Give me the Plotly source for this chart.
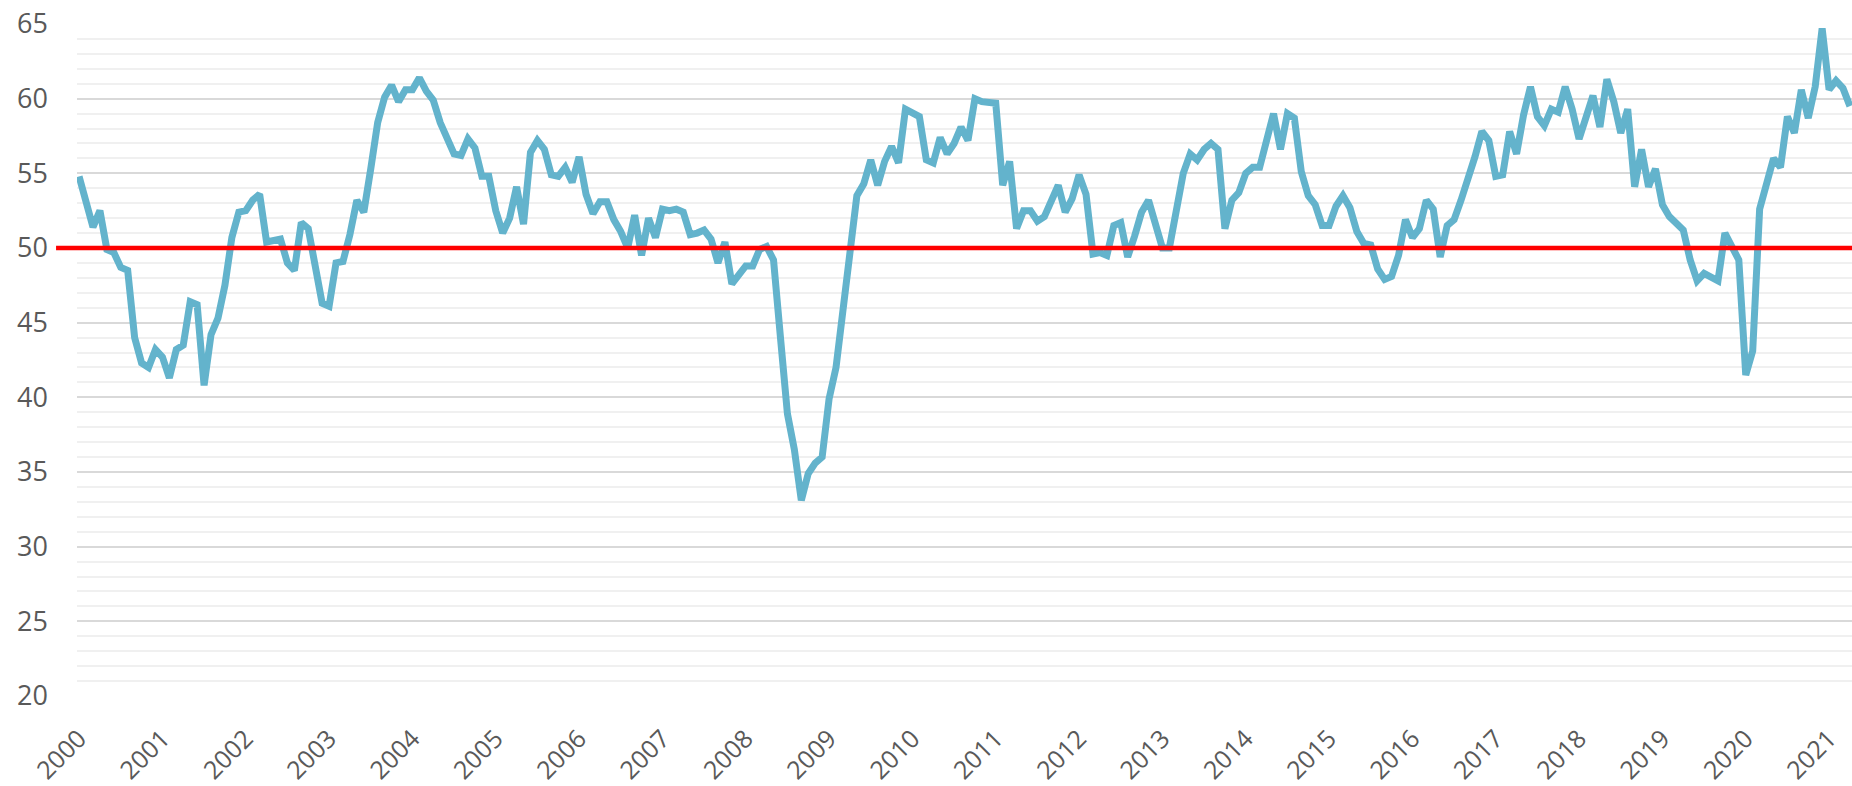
import pandas as pd
import plotly.graph_objects as go

# Monthly index values, April 2000 - July 2021
values = [
    54.8, 53.2, 51.4, 52.5, 49.9, 49.7, 48.7, 48.5, 44.0,
    42.3, 42.0, 43.2, 42.7, 41.3, 43.2, 43.5, 46.4, 46.2, 40.8, 44.2, 45.3,
    47.5, 50.7, 52.4, 52.5, 53.2, 53.6, 50.4, 50.5, 50.6, 49.0, 48.5, 51.7,
    51.3, 48.8, 46.3, 46.1, 49.0, 49.1, 50.9, 53.2, 52.4, 55.3, 58.4, 60.1,
    60.9, 59.8, 60.6, 60.6, 61.4, 60.5, 59.9, 58.4, 57.2, 56.3, 56.2, 57.3,
    56.7, 54.8, 54.8, 52.5, 51.0, 52.0, 54.1, 51.6, 56.4, 57.2, 56.6, 54.9,
    54.8, 55.4, 54.4, 56.1, 53.6, 52.3, 53.1, 53.1, 51.9, 51.1, 50.0, 52.2,
    49.5, 52.0, 50.7, 52.6, 52.5, 52.6, 52.4, 50.9, 51.0, 51.2, 50.6, 49.0,
    50.4, 47.6, 48.2, 48.8, 48.8, 49.9, 50.1, 49.2, 44.0, 38.9, 36.5, 33.1,
    34.9, 35.6, 36.0, 39.9, 42.0, 45.6, 49.0, 53.5, 54.3, 55.9, 54.2, 55.8,
    56.8, 55.7, 59.3, 59.0, 58.8, 55.9, 55.7, 57.4, 56.3, 57.0, 58.1, 57.2,
    60.0, 59.8, 59.8, 59.7, 54.2, 55.8, 51.3, 52.5, 52.5, 51.8, 52.1, 53.2,
    54.2, 52.4, 53.3, 54.9, 53.6, 49.6, 49.7, 49.5, 51.5, 51.7, 49.4, 50.8,
    52.4, 53.2, 51.6, 50.0, 50.0, 52.5, 55.0, 56.3, 55.9, 56.6, 57.0, 56.6,
    51.3, 53.2, 53.7, 55.0, 55.4, 55.4, 57.2, 59.0, 56.6, 59.0, 58.7, 55.1,
    53.5, 52.9, 51.5, 51.5, 52.8, 53.5, 52.7, 51.1, 50.3, 50.2, 48.6, 47.9,
    48.1, 49.5, 51.9, 50.7, 51.3, 53.2, 52.6, 49.4, 51.5, 51.9, 53.2, 54.6,
    56.1, 57.8, 57.2, 54.8, 54.9, 57.8, 56.3, 58.9, 60.8, 58.8, 58.2, 59.3,
    59.1, 60.8, 59.3, 57.3, 58.7, 60.2, 58.1, 61.3, 59.8, 57.7, 59.3, 54.1,
    56.6, 54.1, 55.3, 52.9, 52.1, 51.7, 51.2, 49.2, 47.8, 48.3, 48.1, 47.8,
    51.0, 50.2, 49.2, 41.5, 43.1, 52.6, 54.2, 56.0, 55.4, 58.8, 57.7, 60.6,
    58.7, 60.8, 64.7, 60.6, 61.2, 60.7, 59.5,
]
months = list(pd.period_range("2000-04", periods=len(values), freq="M").strftime("%Y-%m"))
year_labels = [str(y) for y in range(2000, 2022)]
threshold = 50

tickvals = months[::12][:len(year_labels)]

fig = go.Figure()
fig.add_trace(go.Scatter(
    x=months, y=values, mode="lines",
    line=dict(color="#63b3cc", width=7, shape="linear"),
    hoverinfo="x+y", showlegend=False,
))

fig.add_shape(type="line", xref="paper", yref="y", x0=-0.0118, x1=1,
              y0=threshold, y1=threshold, line=dict(color="#ff0000", width=4.5),
              layer="above")

fig.update_layout(
    width=1852, height=786,
    margin=dict(l=77, r=0, t=24, b=90),
    paper_bgcolor="white", plot_bgcolor="white",
    xaxis=dict(
        type="category", range=[-0.3, len(values) - 0.7],
        tickmode="array", tickvals=tickvals, ticktext=year_labels,
        tickangle=-45,
        tickfont=dict(family="Open Sans, Lato, sans-serif", size=25, color="#595959"),
        showgrid=False, zeroline=False, automargin=False,
        showline=False, ticks="", ticklabelstandoff=22,
    ),
    yaxis=dict(
        range=[20, 65], dtick=5, tick0=20,
        tickfont=dict(family="Open Sans, Lato, sans-serif", size=27, color="#595959"),
        showgrid=True, gridcolor="#d9d9d9", gridwidth=1.5,
        minor=dict(dtick=1, showgrid=True, gridcolor="#f0f0f0", gridwidth=1.5),
        zeroline=False, showline=False, ticks="", ticklabelstandoff=28,
        automargin=False,
    ),
)

fig.write_html(
    "out.html",
    config={"displayModeBar": False},
    post_script="document.body.style.margin='0';document.body.style.overflow='hidden';",
)
